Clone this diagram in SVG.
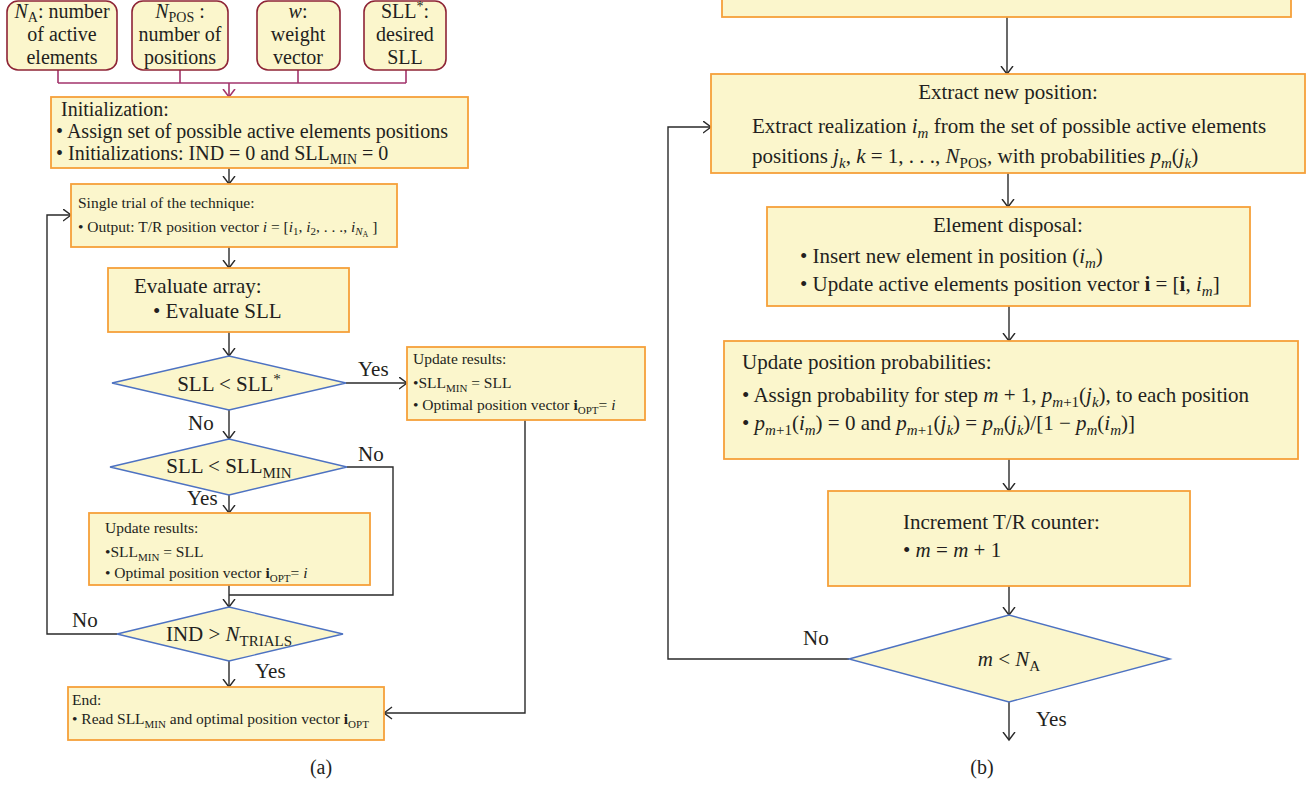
<svg xmlns="http://www.w3.org/2000/svg" width="1316" height="787" viewBox="0 0 1316 787">
<defs>
<style>
.box{fill:#FBF6CC;stroke:#F6A03A;stroke-width:1.8}
.inp{fill:#FBF6CC;stroke:#8E2436;stroke-width:1.6}
.dia{fill:#FBF6CC;stroke:#4D72C2;stroke-width:1.4}
.ln{fill:none;stroke:#2a2a2a;stroke-width:1.4}
.mg{fill:none;stroke:#A3346C;stroke-width:1.6}
text{font-family:"Liberation Serif","Times New Roman",serif;fill:#231F20}
.big{font-size:21px}
.mid{font-size:20px}
.inpt{font-size:20px}
.sm{font-size:15.5px}
.i{font-style:italic}
.b{font-weight:bold}
.c{text-anchor:middle}
</style>
<marker id="ah" markerWidth="10" markerHeight="14" refX="8.5" refY="6.5" orient="auto" markerUnits="userSpaceOnUse">
<path d="M0.5,0.5 L8.5,6.5 L0.5,12.5" fill="none" stroke="#2a2a2a" stroke-width="1.4"/>
</marker>
<marker id="ahm" markerWidth="10" markerHeight="14" refX="8.5" refY="6.5" orient="auto" markerUnits="userSpaceOnUse">
<path d="M0.5,0.5 L8.5,6.5 L0.5,12.5" fill="none" stroke="#A3346C" stroke-width="1.6"/>
</marker>
</defs>
<rect width="1316" height="787" fill="#ffffff"/>

<g id="connectors">
<path class="mg" d="M58,70 V83 M180,70 V83 M298,70 V83 M406,70 V83 M58,83 H406"/>
<path class="mg" d="M229,83 V97" marker-end="url(#ahm)"/>
<path class="ln" d="M229,168 V184" marker-end="url(#ah)"/>
<path class="ln" d="M229,247 V268" marker-end="url(#ah)"/>
<path class="ln" d="M229,332 V356" marker-end="url(#ah)"/>
<path class="ln" d="M346,383 H407" marker-end="url(#ah)"/>
<path class="ln" d="M229,410 V439" marker-end="url(#ah)"/>
<path class="ln" d="M229,495 V513" marker-end="url(#ah)"/>
<path class="ln" d="M347,467 H393 V595 H229"/>
<path class="ln" d="M229,585 V607" marker-end="url(#ah)"/>
<path class="ln" d="M117,634 H47 V215 H71" marker-end="url(#ah)"/>
<path class="ln" d="M229,661 V687" marker-end="url(#ah)"/>
<path class="ln" d="M525,420 V713 H384" marker-end="url(#ah)"/>
<path class="ln" d="M1007,17 V74" marker-end="url(#ah)"/>
<path class="ln" d="M1008,173 V207" marker-end="url(#ah)"/>
<path class="ln" d="M1009,306 V341" marker-end="url(#ah)"/>
<path class="ln" d="M1009,459 V491" marker-end="url(#ah)"/>
<path class="ln" d="M1009,586 V615" marker-end="url(#ah)"/>
<path class="ln" d="M849,659 H668 V127 H711" marker-end="url(#ah)"/>
<path class="ln" d="M1009,702 V740" marker-end="url(#ah)"/>
</g>

<g id="labels">
<text class="big" x="358" y="376">Yes</text>
<text class="big" x="188" y="430">No</text>
<text class="big" x="358" y="461">No</text>
<text class="big" x="187" y="505">Yes</text>
<text class="big" x="72" y="627">No</text>
<text class="big" x="255" y="678">Yes</text>
<text class="big" x="803" y="645">No</text>
<text class="big" x="1036" y="726">Yes</text>
<text class="c" x="321" y="774" font-size="20">(a)</text>
<text class="c" x="982" y="774" font-size="20">(b)</text>
</g>

<g id="in-na">
<rect class="inp" x="7" y="1" width="110" height="69" rx="11"/>
<text class="inpt c" x="62" y="18"><tspan class="i">N</tspan><tspan font-size="14" dy="4">A</tspan><tspan dy="-4">: number</tspan></text>
<text class="inpt c" x="62" y="41">of active</text>
<text class="inpt c" x="62" y="64">elements</text>
</g>
<g id="in-npos">
<rect class="inp" x="132" y="1" width="96" height="69" rx="11"/>
<text class="inpt c" x="180" y="18"><tspan class="i">N</tspan><tspan font-size="14" dy="4">POS</tspan><tspan dy="-4"> :</tspan></text>
<text class="inpt c" x="180" y="41">number of</text>
<text class="inpt c" x="180" y="64">positions</text>
</g>
<g id="in-w">
<rect class="inp" x="257" y="1" width="83" height="69" rx="11"/>
<text class="inpt c" x="298" y="18"><tspan class="i">w</tspan>:</text>
<text class="inpt c" x="298" y="41">weight</text>
<text class="inpt c" x="298" y="64">vector</text>
</g>
<g id="in-sll">
<rect class="inp" x="364" y="1" width="82" height="69" rx="11"/>
<text class="inpt c" x="405" y="18">SLL<tspan font-size="14" dy="-7">*</tspan><tspan dy="7">:</tspan></text>
<text class="inpt c" x="405" y="41">desired</text>
<text class="inpt c" x="405" y="64">SLL</text>
</g>

<g id="init">
<rect class="box" x="51" y="97" width="417" height="71"/>
<text class="mid" x="61" y="116">Initialization:</text>
<text class="mid" x="56" y="138">• Assign set of possible active elements positions</text>
<text class="mid" x="56" y="160">• Initializations: IND = 0 and SLL<tspan font-size="14" dy="4">MIN</tspan><tspan dy="-4"> = 0</tspan></text>
</g>

<g id="trial">
<rect class="box" x="71" y="184" width="326" height="63"/>
<text class="sm" x="78" y="208">Single trial of the technique:</text>
<text class="sm" x="78" y="232">• Output: T/R position vector <tspan class="i">i</tspan> = [<tspan class="i">i</tspan><tspan font-size="11" dy="3">1</tspan><tspan dy="-3">, </tspan><tspan class="i">i</tspan><tspan font-size="11" dy="3">2</tspan><tspan dy="-3">, . . ., </tspan><tspan class="i">i</tspan><tspan class="i" font-size="11" dy="3">N</tspan><tspan font-size="8" dy="2">A</tspan><tspan dy="-5"> ]</tspan></text>
</g>

<g id="evaluate">
<rect class="box" x="108" y="268" width="241" height="64"/>
<text class="big" x="134" y="293">Evaluate array:</text>
<text class="big" x="153" y="318">• Evaluate SLL</text>
</g>

<g id="dec-star">
<polygon class="dia" points="112,383 229,356 346,383 229,410"/>
<text class="big c" x="229" y="391">SLL &lt; SLL<tspan font-size="15" dy="-7">*</tspan></text>
</g>

<g id="update1">
<rect class="box" x="407" y="347" width="238" height="73"/>
<text class="sm" x="413" y="364">Update results:</text>
<text class="sm" x="413" y="388">•SLL<tspan font-size="11" dy="4">MIN</tspan><tspan dy="-4"> = SLL</tspan></text>
<text class="sm" x="413" y="410">• Optimal position vector <tspan class="b">i</tspan><tspan font-size="11" dy="4">OPT</tspan><tspan dy="-4">= </tspan><tspan class="i">i</tspan></text>
</g>

<g id="dec-min">
<polygon class="dia" points="110,467 229,439 347,467 229,495"/>
<text class="big c" x="229" y="473">SLL &lt; SLL<tspan font-size="15" dy="5">MIN</tspan></text>
</g>

<g id="update2">
<rect class="box" x="89" y="513" width="281" height="72"/>
<text class="sm" x="105" y="533">Update results:</text>
<text class="sm" x="105" y="557">•SLL<tspan font-size="11" dy="4">MIN</tspan><tspan dy="-4"> = SLL</tspan></text>
<text class="sm" x="105" y="578">• Optimal position vector <tspan class="b">i</tspan><tspan font-size="11" dy="4">OPT</tspan><tspan dy="-4">= </tspan><tspan class="i">i</tspan></text>
</g>

<g id="dec-trials">
<polygon class="dia" points="117,634 229,607 343,634 229,661"/>
<text class="big c" x="229" y="641">IND &gt; <tspan class="i">N</tspan><tspan font-size="15" dy="5">TRIALS</tspan></text>
</g>

<g id="end">
<rect class="box" x="68" y="687" width="316" height="53"/>
<text class="sm" x="72" y="705">End:</text>
<text class="sm" x="72" y="724">• Read SLL<tspan font-size="11" dy="4">MIN</tspan><tspan dy="-4"> and optimal position vector </tspan><tspan class="b">i</tspan><tspan font-size="11" dy="4">OPT</tspan></text>
</g>

<g id="top-right">
<rect class="box" x="722" y="-10" width="569" height="27"/>
</g>

<g id="extract">
<rect class="box" x="711" y="74" width="594" height="99"/>
<text class="big c" x="1008" y="99">Extract new position:</text>
<text class="big" x="752" y="133">Extract realization <tspan class="i">i</tspan><tspan class="i" font-size="15" dy="5">m</tspan><tspan dy="-5"> from the set of possible active elements</tspan></text>
<text class="big" x="752" y="163">positions <tspan class="i">j</tspan><tspan class="i" font-size="15" dy="5">k</tspan><tspan dy="-5">, </tspan><tspan class="i">k</tspan> = 1, . . ., <tspan class="i">N</tspan><tspan font-size="15" dy="5">POS</tspan><tspan dy="-5">, with probabilities </tspan><tspan class="i">p</tspan><tspan class="i" font-size="15" dy="5">m</tspan><tspan dy="-5">(</tspan><tspan class="i">j</tspan><tspan class="i" font-size="15" dy="5">k</tspan><tspan dy="-5">)</tspan></text>
</g>

<g id="disposal">
<rect class="box" x="767" y="207" width="483" height="99"/>
<text class="big c" x="1008" y="232">Element disposal:</text>
<text class="big" x="800" y="263">• Insert new element in position (<tspan class="i">i</tspan><tspan class="i" font-size="15" dy="5">m</tspan><tspan dy="-5">)</tspan></text>
<text class="big" x="800" y="291">• Update active elements position vector <tspan class="b">i</tspan> = [<tspan class="b">i</tspan>, <tspan class="i">i</tspan><tspan class="i" font-size="15" dy="5">m</tspan><tspan dy="-5">]</tspan></text>
</g>

<g id="probabilities">
<rect class="box" x="724" y="341" width="574" height="118"/>
<text class="big" x="742" y="369">Update position probabilities:</text>
<text class="big" x="742" y="402">• Assign probability for step <tspan class="i">m</tspan> + 1, <tspan class="i">p</tspan><tspan font-size="15" dy="5"><tspan class="i">m</tspan>+1</tspan><tspan dy="-5">(</tspan><tspan class="i">j</tspan><tspan class="i" font-size="15" dy="5">k</tspan><tspan dy="-5">), to each position</tspan></text>
<text class="big" x="742" y="430">• <tspan class="i">p</tspan><tspan font-size="15" dy="5"><tspan class="i">m</tspan>+1</tspan><tspan dy="-5">(</tspan><tspan class="i">i</tspan><tspan class="i" font-size="15" dy="5">m</tspan><tspan dy="-5">) = 0 and </tspan><tspan class="i">p</tspan><tspan font-size="15" dy="5"><tspan class="i">m</tspan>+1</tspan><tspan dy="-5">(</tspan><tspan class="i">j</tspan><tspan class="i" font-size="15" dy="5">k</tspan><tspan dy="-5">) = </tspan><tspan class="i">p</tspan><tspan class="i" font-size="15" dy="5">m</tspan><tspan dy="-5">(</tspan><tspan class="i">j</tspan><tspan class="i" font-size="15" dy="5">k</tspan><tspan dy="-5">)/[1 − </tspan><tspan class="i">p</tspan><tspan class="i" font-size="15" dy="5">m</tspan><tspan dy="-5">(</tspan><tspan class="i">i</tspan><tspan class="i" font-size="15" dy="5">m</tspan><tspan dy="-5">)]</tspan></text>
</g>

<g id="increment">
<rect class="box" x="828" y="491" width="362" height="95"/>
<text class="big" x="903" y="529">Increment T/R counter:</text>
<text class="big" x="903" y="557">• <tspan class="i">m</tspan> = <tspan class="i">m</tspan> + 1</text>
</g>

<g id="dec-m">
<polygon class="dia" points="849,659 1009,615 1170,659 1009,702"/>
<text class="big c" x="1009" y="666"><tspan class="i">m</tspan> &lt; <tspan class="i">N</tspan><tspan font-size="15" dy="5">A</tspan></text>
</g>
</svg>
